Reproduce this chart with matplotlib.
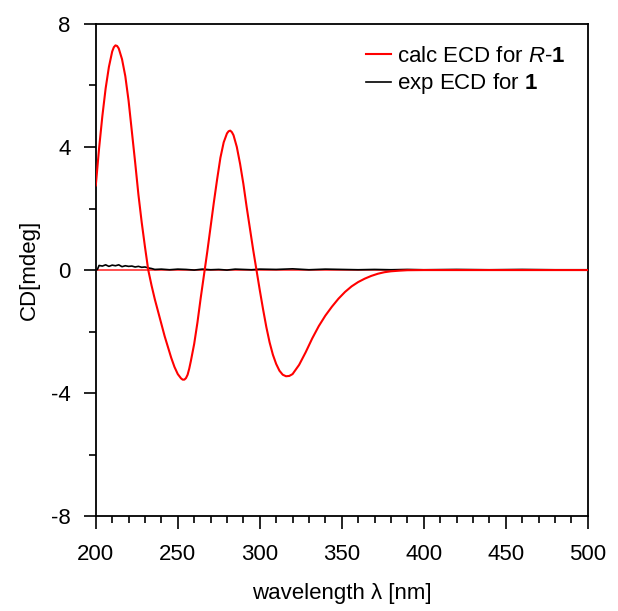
import numpy as np
import matplotlib
matplotlib.use('Agg')
import matplotlib.pyplot as plt
from matplotlib.ticker import MultipleLocator

plt.rcParams['font.family'] = 'Liberation Sans'
plt.rcParams['mathtext.fontset'] = 'custom'
plt.rcParams['mathtext.rm'] = 'Liberation Sans'
plt.rcParams['mathtext.it'] = 'Liberation Sans:italic'
plt.rcParams['mathtext.bf'] = 'Liberation Sans:bold'
plt.rcParams['axes.unicode_minus'] = False

# calculated ECD
calc_wl = [200, 202, 204, 206, 208, 210, 211, 212, 213, 214, 216, 218, 220, 222, 224, 226, 228,
           230, 232, 234, 236, 238, 240, 242, 244, 246, 248, 250, 252, 253, 254, 255,
           256, 257, 258, 260, 262, 264, 266, 268, 270, 272, 274, 276, 278, 280, 281, 282,
           283, 284, 286, 288, 290, 292, 294, 296, 298, 300, 302, 304, 306, 308, 310, 312,
           314, 316, 318, 320, 324, 328, 332, 336, 340, 344, 348, 352, 356, 360, 364,
           368, 372, 376, 380, 385, 390, 400, 450, 500]
calc_cd = [2.75, 3.95, 5.0, 5.9, 6.6, 7.1, 7.24, 7.3, 7.28, 7.2, 6.85, 6.3, 5.5, 4.5, 3.5, 2.45, 1.55,
           0.75, 0.0, -0.5, -0.95, -1.35, -1.75, -2.15, -2.5, -2.85, -3.15, -3.38, -3.52, -3.56, -3.56, -3.51,
           -3.4, -3.2, -2.95, -2.4, -1.7, -0.9, -0.15, 0.6, 1.4, 2.2, 2.95, 3.65, 4.15, 4.44, 4.51, 4.53,
           4.48, 4.38, 4.0, 3.45, 2.8, 2.05, 1.35, 0.65, 0.0, -0.65, -1.27, -1.85, -2.35, -2.75, -3.05, -3.27,
           -3.4, -3.45, -3.44, -3.38, -3.08, -2.67, -2.22, -1.82, -1.48, -1.19, -0.93, -0.71, -0.53, -0.39, -0.28,
           -0.19, -0.12, -0.07, -0.04, -0.02, -0.005, 0.0, 0.0, 0.0]

# experimental ECD
exp_wl = [201, 202, 204, 206, 208, 210, 212, 214, 216, 218, 220, 222, 224, 226, 228,
          230, 232, 234, 236, 240, 245, 250, 255, 260, 265, 270, 275, 280, 285, 290,
          295, 300, 310, 320, 330, 340, 350, 360, 370, 380, 390, 400, 420, 440, 460, 480, 500]
exp_cd = [0.02, 0.15, 0.13, 0.17, 0.12, 0.16, 0.14, 0.17, 0.11, 0.14, 0.12, 0.13, 0.10, 0.12, 0.09,
          0.10, 0.07, 0.05, 0.02, 0.03, 0.01, 0.03, 0.02, 0.00, 0.03, 0.01, 0.02, 0.00, 0.03, 0.02,
          0.01, 0.03, 0.02, 0.04, 0.01, 0.03, 0.02, 0.01, 0.02, 0.01, 0.02, 0.01, 0.02, 0.01, 0.02, 0.01, 0.01]

fig = plt.figure(figsize=(6.18, 6.11), dpi=100)
ax = fig.add_axes([0.155, 0.155, 0.796, 0.806])

ax.axhline(0, color='#ff4040', lw=1.3, zorder=1)
ax.plot(calc_wl, calc_cd, color='#ff0000', lw=1.5, label='calc ECD for $\\mathit{R}$-$\\mathbf{1}$', zorder=3)
ax.plot(exp_wl, exp_cd, color='black', lw=1.2, label='exp ECD for $\\mathbf{1}$', zorder=2)

ax.set_xlim(200, 500)
ax.set_ylim(-8, 8)
ax.xaxis.set_major_locator(MultipleLocator(50))
ax.xaxis.set_minor_locator(MultipleLocator(10))
ax.yaxis.set_major_locator(MultipleLocator(4))
ax.yaxis.set_minor_locator(MultipleLocator(2))
ax.tick_params(which='major', length=9, width=1.2, labelsize=16, direction='out')
ax.tick_params(which='minor', length=5, width=1.2, direction='out')
ax.tick_params(axis='x', pad=11)
ax.tick_params(axis='y', pad=9)
for s in ax.spines.values():
    s.set_linewidth(1.3)

ax.set_xlabel('wavelength λ [nm]', fontsize=16, labelpad=13)
ax.set_ylabel('CD[mdeg]', fontsize=16, labelpad=8)

ax.legend(loc='upper right', frameon=False, fontsize=16, handlelength=1.1,
          handletextpad=0.3, labelspacing=0.2, borderaxespad=0.6)

fig.savefig('out.png', dpi=100)
